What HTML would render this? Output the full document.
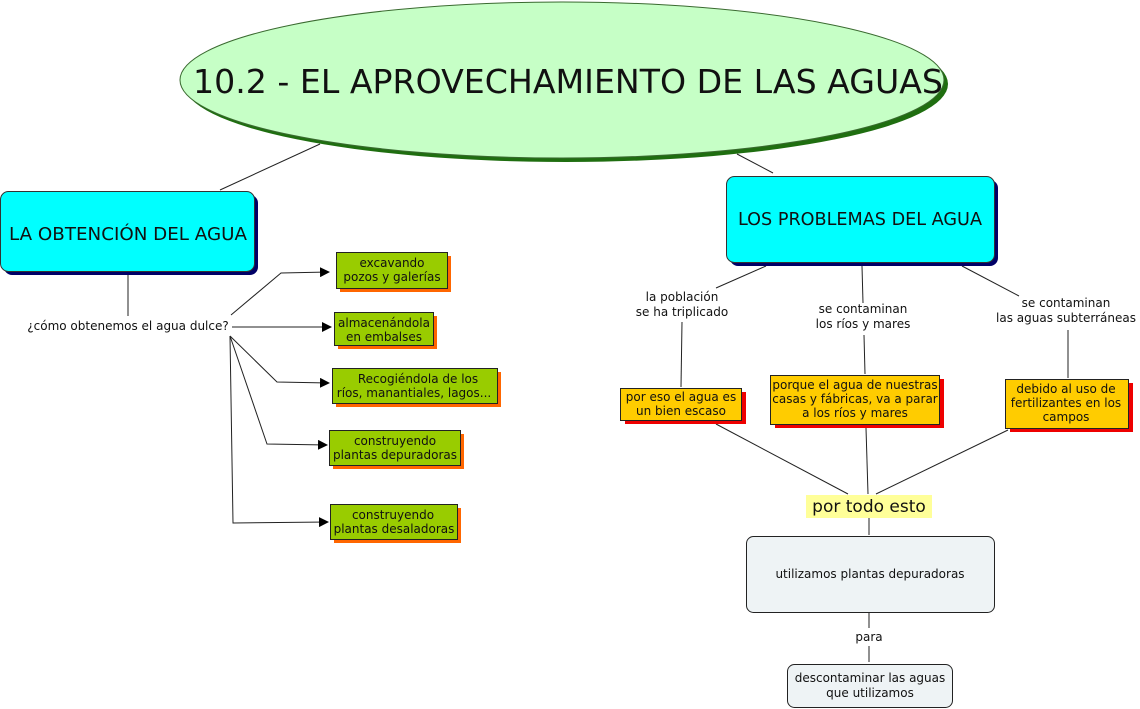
<!DOCTYPE html>
<html><head><meta charset="utf-8"><style>
html,body{margin:0;padding:0;background:#fff;width:1140px;height:709px;overflow:hidden}
svg{display:block}
text{font-family:"DejaVu Sans","Liberation Sans",sans-serif;fill:#111}
</style></head><body>
<svg width="1140" height="709" viewBox="0 0 1140 709" xmlns="http://www.w3.org/2000/svg">
<defs><marker id="a" markerWidth="10" markerHeight="10" refX="9" refY="5" orient="auto" markerUnits="userSpaceOnUse"><path d="M0,0 L10,5 L0,10z" fill="#000"/></marker></defs>
<g stroke="#222" stroke-width="1" fill="none">
<line x1="320" y1="144" x2="220" y2="190"/>
<line x1="737" y1="154" x2="773" y2="173"/>
<line x1="128" y1="275" x2="128" y2="316"/>
<polyline points="231,315 281,273 329,272" marker-end="url(#a)"/>
<polyline points="232,327 331,327" marker-end="url(#a)"/>
<polyline points="230,336 277,382 329,383" marker-end="url(#a)"/>
<polyline points="230,336 267,444 327,445" marker-end="url(#a)"/>
<polyline points="230,336 233,523 328,522" marker-end="url(#a)"/>
<line x1="766" y1="266" x2="716" y2="288"/>
<line x1="682" y1="322" x2="681" y2="387"/>
<line x1="862" y1="266" x2="863" y2="303"/>
<line x1="864" y1="335" x2="865" y2="374"/>
<line x1="962" y1="266" x2="1019" y2="296"/>
<line x1="1068" y1="330" x2="1068" y2="378"/>
<line x1="716" y1="424" x2="848" y2="494"/>
<line x1="866" y1="428" x2="868" y2="494"/>
<line x1="1008" y1="430" x2="876" y2="494"/>
<line x1="869" y1="518" x2="869" y2="535"/>
<line x1="869" y1="613" x2="869" y2="628"/>
<line x1="869" y1="646" x2="869" y2="662"/>
</g>
<ellipse cx="566" cy="84" rx="382" ry="78" fill="#1f6e10"/>
<ellipse cx="562" cy="80" rx="382" ry="78" fill="#c6ffc6" stroke="#3a6a30" stroke-width="1"/>
<text x="568" y="93" font-size="33" text-anchor="middle" textLength="750" lengthAdjust="spacingAndGlyphs">10.2 - EL APROVECHAMIENTO DE LAS AGUAS</text>
<rect x="4" y="195" width="254" height="80" rx="8" fill="#000066"/>
<rect x="0.5" y="191.5" width="254" height="80" rx="8" fill="#00ffff" stroke="#333"/>
<text x="128" y="240" font-size="18" text-anchor="middle" textLength="238" lengthAdjust="spacingAndGlyphs">LA OBTENCIÓN DEL AGUA</text>
<rect x="730" y="180" width="268" height="86" rx="8" fill="#000066"/>
<rect x="726.5" y="176.5" width="268" height="86" rx="8" fill="#00ffff" stroke="#333"/>
<text x="860" y="225" font-size="18" text-anchor="middle" textLength="244" lengthAdjust="spacingAndGlyphs">LOS PROBLEMAS DEL AGUA</text>
<text x="128" y="330" font-size="12" text-anchor="middle">¿cómo obtenemos el agua dulce?</text>
<g font-size="12" text-anchor="middle">
<rect x="340" y="256" width="111" height="36" fill="#ff6600"/><rect x="336.5" y="252.5" width="111" height="36" fill="#99cc00" stroke="#222"/>
<text x="392" y="267">excavando</text><text x="392" y="281">pozos y galerías</text>
<rect x="338" y="316" width="99" height="33" fill="#ff6600"/><rect x="334.5" y="312.5" width="99" height="33" fill="#99cc00" stroke="#222"/>
<text x="384" y="327">almacenándola</text><text x="384" y="341">en embalses</text>
<rect x="336" y="372" width="165" height="35" fill="#ff6600"/><rect x="332.5" y="368.5" width="165" height="35" fill="#99cc00" stroke="#222"/>
<text x="418" y="383">Recogiéndola de los</text><text x="414" y="397">ríos, manantiales, lagos...</text>
<rect x="333" y="434" width="131" height="35" fill="#ff6600"/><rect x="329.5" y="430.5" width="131" height="35" fill="#99cc00" stroke="#222"/>
<text x="395" y="445">construyendo</text><text x="395" y="459">plantas depuradoras</text>
<rect x="334" y="508" width="127" height="35" fill="#ff6600"/><rect x="330.5" y="504.5" width="127" height="35" fill="#99cc00" stroke="#222"/>
<text x="393" y="519">construyendo</text><text x="394" y="533">plantas desaladoras</text>
<text x="682" y="301">la población</text><text x="682" y="316">se ha triplicado</text>
<text x="863" y="313">se contaminan</text><text x="863" y="328">los ríos y mares</text>
<text x="1066" y="307">se contaminan</text><text x="1066" y="322">las aguas subterráneas</text>
<rect x="625" y="392" width="121" height="32" fill="#ee0000"/><rect x="620.5" y="388.5" width="121" height="32" fill="#ffcc00" stroke="#222"/>
<text x="681" y="401">por eso el agua es</text><text x="681" y="415">un bien escaso</text>
<rect x="775" y="379" width="169" height="49" fill="#ee0000"/><rect x="770.5" y="375.5" width="169" height="49" fill="#ffcc00" stroke="#222"/>
<text x="855" y="389">porque el agua de nuestras</text><text x="855" y="403">casas y fábricas, va a parar</text><text x="855" y="417">a los ríos y mares</text>
<rect x="1010" y="383" width="123" height="49" fill="#ee0000"/><rect x="1005.5" y="379.5" width="123" height="49" fill="#ffcc00" stroke="#222"/>
<text x="1066" y="393">debido al uso de</text><text x="1066" y="407">fertilizantes en los</text><text x="1066" y="421">campos</text>
<rect x="746.5" y="536.5" width="248" height="76" rx="7" fill="#eef3f5" stroke="#222"/>
<text x="870" y="578">utilizamos plantas depuradoras</text>
<text x="869" y="641">para</text>
<rect x="787.5" y="664.5" width="165" height="43" rx="7" fill="#eef3f5" stroke="#222"/>
<text x="870" y="682">descontaminar las aguas</text><text x="870" y="697">que utilizamos</text>
</g>
<rect x="806" y="495" width="126" height="23" fill="#ffff99"/>
<text x="869" y="512" font-size="17" text-anchor="middle">por todo esto</text>
</svg>
</body></html>
